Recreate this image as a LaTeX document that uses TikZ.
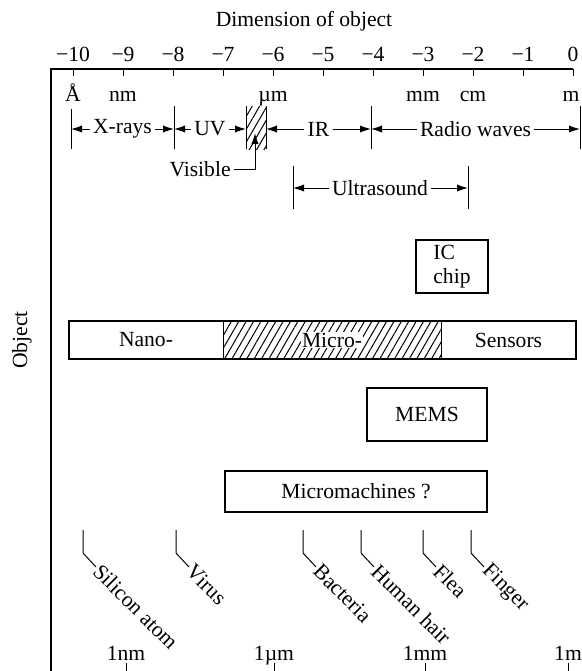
\documentclass[tikz,border=0pt]{standalone}
\usepackage{fontspec}
\setmainfont{Liberation Serif}
\usetikzlibrary{arrows.meta,patterns.meta}
\begin{document}
\begin{tikzpicture}[x=0.5pt,y=-0.5pt,
  every node/.style={font=\fontsize{10.8}{12}\selectfont},
  ln/.style={line width=0.5pt},
  arr/.style={line width=0.5pt,-{Latex[length=5.5pt,width=3.6pt]}},
  boxed/.style={draw,line width=0.6pt,inner sep=0pt},
  lbl/.style={inner sep=1.5pt},
  hatch/.style={pattern={Lines[angle=60,distance=3.2pt,line width=0.5pt]}},
  objlbl/.style={rotate=-45,anchor=west,inner sep=0.5pt},
]
\useasboundingbox (0,0) rectangle (582,671);

% axes
\node[anchor=base] (title) at (304,26) {Dimension of object};
\draw[line width=0.7pt] (51,671) -- (51,69) -- (573,69);
\foreach \v [count=\k from 0] in {−10,−9,−8,−7,−6,−5,−4,−3,−2,−1,0}{
  \draw[ln] (73+50*\k,69) -- (73+50*\k,76);
  \node[anchor=base] (t\k) at (73+50*\k,61) {\v};
}
\node[rotate=90] (obj) at (22,340) {Object};

% unit labels
\node[anchor=base] (uA) at (73,101) {Å};
\node[anchor=base] (unm) at (123,101) {nm};
\node[anchor=base] (uum) at (273,101) {µm};
\node[anchor=base] (umm) at (423,101) {mm};
\node[anchor=base] (ucm) at (473,101) {cm};
\node[anchor=base] (um) at (571,101) {m};

% spectrum
\fill[hatch] (246,106) rectangle (266,149);
\foreach \n/\x/\t in {1/71/109,2/174/106,3/246/106,4/266/106,5/371/106,6/580/106}{
  \coordinate (b\n) at (\x,129);
  \draw[ln] (\x,\t) -- (\x,149);
}
\node[lbl] (xr) at (122.5,129) {X-rays};
\node[lbl] (uv) at (210,129) {UV};
\node[lbl] (ir) at (318.5,129) {IR};
\node[lbl] (rw) at (475.5,129) {Radio waves};
\draw[arr] (xr.west) -- (b1);
\draw[arr] (xr.east) -- (b2);
\draw[arr] (uv.west) -- (b2);
\draw[arr] (uv.east) -- (b3);
\draw[arr] (ir.west) -- (b4);
\draw[arr] (ir.east) -- (b5);
\draw[arr] (rw.west) -- (b5);
\draw[arr] (rw.east) -- (b6);

\node[lbl,anchor=east] (vis) at (234,169) {Visible};
\coordinate (vtip) at (255,133);
\draw[arr] (vis.east) -| (vtip);

% ultrasound
\draw[ln] (293,166) -- (293,209);
\draw[ln] (468,166) -- (468,209);
\coordinate (u1) at (293,188);
\coordinate (u2) at (468,188);
\node[lbl] (us) at (380,188) {Ultrasound};
\draw[arr] (us.west) -- (u1);
\draw[arr] (us.east) -- (u2);

% IC chip
\node[boxed,minimum width=36pt,minimum height=26.5pt,align=left] (ic) at (452,266.5) {IC\\chip};

% Nano / Micro / Sensors
\fill[hatch] (223,321) rectangle (441,359);
\draw[line width=0.6pt] (69,321) rectangle (576,359);
\draw[ln] (223,321) -- (223,359);
\draw[ln] (441,321) -- (441,359);
\node (nano) at (146,340) {Nano-};
\node[fill=white,inner sep=0.3pt] (micro) at (332,340) {Micro-};
\node (sens) at (508.5,340) {Sensors};

% MEMS, Micromachines
\node[boxed,minimum width=60pt,minimum height=26.5pt] (mems) at (427,414.5) {MEMS};
\node[boxed,minimum width=131pt,minimum height=20.5pt] (mm) at (356,491.5) {Micromachines ?};

% objects
\foreach \n/\x/\t in {1/83/Silicon atom,2/176/Virus,3/303/Bacteria,4/361/Human hair,5/423/Flea,6/471/Finger}{
  \coordinate (oa\n) at (\x,530);
  \coordinate (ob\n) at (\x,553);
  \node[objlbl] (o\n) at (\x+13,567) {\t};
  \draw[ln] (oa\n) -- (ob\n) -- (o\n.west);
}

% bottom scale
\foreach \n/\x/\t in {1/126/1nm,2/274/1µm,3/425/1mm,4/568/1m}{
  \node[anchor=base] (s\n) at (\x,660) {\t};
  \draw[ln] (\x,663) -- (\x,671);
}
\end{tikzpicture}
\end{document}
